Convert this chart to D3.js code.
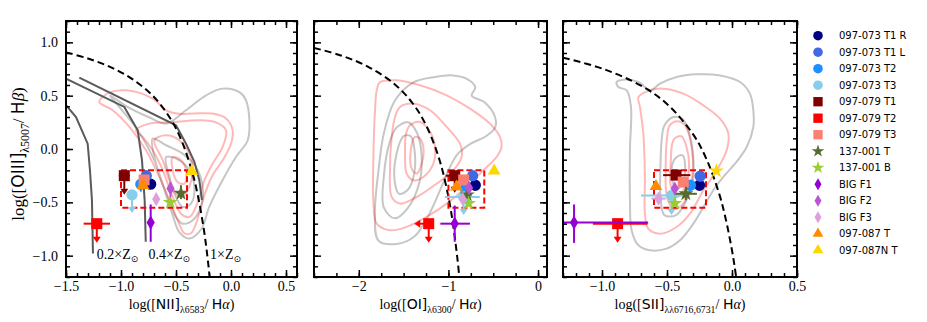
<!DOCTYPE html>
<html><head><meta charset="utf-8">
<script src="https://cdn.jsdelivr.net/npm/d3@7"></script>
<style>body{margin:0;background:#fff}svg{display:block}</style>
</head><body><svg id="c" width="927" height="322"></svg>
<script>
// ---------------- data ----------------
const seriesNames = ["097-073 T1 R","097-073 T1 L","097-073 T2","097-073 T3","097-079 T1","097-079 T2","097-079 T3","137-001 T","137-001 B","BIG F1","BIG F2","BIG F3","097-087 T","097-087N T"];
const seriesShapes = ["circle","circle","circle","circle","square","square","square","star","star","diamond","diamond","diamond","triangle","triangle"];
const seriesColors = ["#000080","#4169e1","#1e90ff","#87ceeb","#800000","#ff0000","#fa8072","#556b2f","#9acd32","#9400d3","#ba55d3","#dda0dd","#ff8c00","#ffd700"];

// BPT [NII]
const niiX = [-0.73,-0.77,-0.82,-0.90,-0.97,-1.22,-0.79,-0.455,-0.552,-0.73,-0.55,-0.68,-0.80,-0.357];
const niiY = [-0.33,-0.25,-0.33,-0.43,-0.25,-0.70,-0.29,-0.415,-0.50,-0.69,-0.37,-0.47,-0.34,-0.21];
const niiXErr = [null,null,null,[-0.95,-0.86],[-1.02,-0.92],[-1.34,-1.10],null,null,null,null,null,null,null,null];
const niiYErr = [null,null,[-0.33,-0.40],null,null,null,null,[-0.34,-0.47],null,[-0.52,-0.87],[-0.31,-0.45],null,null,null];
const niiDown = [null,null,null,-0.59,-0.42,-0.87,null,null,null,null,null,null,null,null];
const niiLeft = [null,null,null,null,null,null,null,null,null,null,null,null,null,null];

// [OI]
const oiX = [-0.70,-0.73,-0.81,-0.83,-0.93,-1.22,-0.83,-0.79,-0.775,-0.93,-0.77,-0.84,-0.91,-0.49];
const oiY = [-0.34,-0.25,-0.37,-0.45,-0.25,-0.70,-0.29,-0.43,-0.51,-0.70,-0.365,-0.47,-0.355,-0.205];
const oiXErr = [null,null,null,[-1.04,-0.65],[-1.03,-0.92],null,null,[-0.84,-0.74],null,[-1.09,-0.76],null,null,null,null];
const oiYErr = [null,null,null,null,null,null,null,[-0.39,-0.47],null,[-0.53,-0.87],null,null,null,null];
const oiDown = [null,null,null,-0.61,-0.40,-0.87,null,null,null,null,null,null,null,null];
const oiLeft = [null,null,null,null,null,-1.37,null,null,null,null,null,null,null,null];

// [SII]
const siiX = [-0.25,-0.245,-0.32,-0.465,-0.43,-0.88,-0.375,-0.355,-0.44,-1.215,-0.44,-0.565,-0.585,-0.12];
const siiY = [-0.34,-0.255,-0.34,-0.435,-0.245,-0.70,-0.31,-0.42,-0.51,-0.69,-0.37,-0.465,-0.35,-0.205];
const siiXErr = [null,null,null,[-0.70,-0.33],[-0.53,-0.32],[-1.07,-0.65],null,[-0.44,-0.27],null,[-1.35,-0.645],null,[-0.62,-0.51],null,null];
const siiYErr = [null,null,null,null,null,null,null,[-0.36,-0.48],null,[-0.52,-0.88],null,null,null,null];
const siiDown = [null,null,null,-0.61,null,-0.87,null,null,null,null,null,null,null,null];
const siiLeft = [null,null,null,null,null,null,null,null,null,null,null,null,null,null];
const siiShapes = ["circle","circle","circle","circle","square","square","square","star","star","diamond","diamond","diamond","triangle","star"];

// tick labels
const yTicks = [-1.0,-0.5,0.0,0.5,1.0];
const niiTicks = [-1.5,-1.0,-0.5,0.0,0.5];
const oiTicks = [-2,-1,0];
const siiTicks = [-1.0,-0.5,0.0,0.5];

// demarcation curves
const niiCurveX = [-1.5,-1.3,-1.1,-0.9,-0.7,-0.55,-0.45,-0.35,-0.3,-0.25,-0.22,-0.194];
const niiCurveY = [0.906,0.848,0.770,0.658,0.487,0.283,0.08,-0.225,-0.443,-0.733,-0.959,-1.2];
const oiCurveX = [-2.5,-2.2,-1.9,-1.6,-1.4,-1.25,-1.1,-1.0,-0.95,-0.9,-0.879];
const oiCurveY = [0.948,0.877,0.773,0.607,0.429,0.224,-0.101,-0.45,-0.698,-1.025,-1.196];
const siiCurveX = [-1.3,-1.0,-0.7,-0.5,-0.3,-0.2,-0.1,-0.05,0.0,0.02,0.032];
const siiCurveY = [0.856,0.755,0.594,0.422,0.139,-0.085,-0.414,-0.646,-0.95,-1.1,-1.2];

// selection boxes [x0,x1,y0,y1]
const niiBox = [-1.0,-0.4,-0.55,-0.2];
const oiBox = [-1.0,-0.6,-0.55,-0.2];
const siiBox = [-0.6,-0.2,-0.55,-0.2];

// metallicity tracks (NII panel)
const trackLabels = ["0.2×Z","0.4×Z","1×Z"];
const trackLabelPos = [[-1.22,-1.03],[-0.75,-1.03],[-0.19,-1.03]];
const track02 = [[-1.5,0.41],[-1.409,0.30],[-1.303,0.05],[-1.282,-0.20],[-1.264,-0.48],[-1.255,-0.98]];
const track04 = [[-1.5,0.66],[-0.97,0.394],[-0.848,0.175],[-0.809,-0.106],[-0.785,-0.48],[-0.775,-0.87]];
const track10 = [[-1.379,0.669],[-0.5,0.222],[-0.409,0.05],[-0.333,-0.12],[-0.288,-0.293],[-0.264,-0.48]];

// contours
const niiPink = [
 [[-1.197,0.441],[-1.106,0.528],[-0.95,0.55],[-0.712,0.472],[-0.59,0.363],[-0.47,0.33],[-0.348,0.332],[-0.167,0.332],[-0.045,0.285],[0.015,0.175],[0.0,0.05],[-0.076,-0.106],[-0.167,-0.246],[-0.227,-0.387],[-0.273,-0.543],[-0.318,-0.70],[-0.364,-0.79],[-0.424,-0.79],[-0.485,-0.668],[-0.56,-0.48],[-0.652,-0.262],[-0.773,-0.012],[-0.924,0.207],[-1.076,0.363]],
 [[-0.864,0.175],[-0.742,0.238],[-0.55,0.25],[-0.288,0.27],[-0.136,0.25],[-0.045,0.175],[-0.076,0.02],[-0.167,-0.137],[-0.242,-0.293],[-0.288,-0.45],[-0.333,-0.575],[-0.379,-0.637],[-0.455,-0.606],[-0.53,-0.45],[-0.62,-0.2],[-0.712,-0.012],[-0.803,0.113]],
 [[-0.697,0.082],[-0.59,0.128],[-0.47,0.082],[-0.379,-0.043],[-0.348,-0.2],[-0.379,-0.356],[-0.44,-0.45],[-0.5,-0.418],[-0.56,-0.293],[-0.62,-0.106]],
 [[-0.53,-0.075],[-0.455,-0.106],[-0.409,-0.2],[-0.424,-0.325],[-0.485,-0.31],[-0.53,-0.2]]
];
const niiGray = [
 [[-1.10,0.50],[-0.95,0.40],[-0.75,0.30],[-0.59,0.238],[-0.41,0.363],[-0.227,0.503],[-0.076,0.566],[0.08,0.53],[0.136,0.457],[0.167,0.27],[0.152,0.082],[0.045,-0.075],[-0.076,-0.29],[-0.197,-0.54],[-0.27,-0.75],[-0.379,-0.84],[-0.47,-0.78],[-0.53,-0.62],[-0.60,-0.40],[-0.70,-0.10],[-0.85,0.18],[-1.02,0.40]],
 [[-0.712,0.097],[-0.59,0.035],[-0.44,-0.043],[-0.318,-0.168],[-0.258,-0.356],[-0.273,-0.543],[-0.348,-0.668],[-0.44,-0.70],[-0.5,-0.637],[-0.59,-0.418],[-0.682,-0.137]],
 [[-0.59,-0.075],[-0.47,-0.106],[-0.379,-0.2],[-0.333,-0.356],[-0.364,-0.512],[-0.44,-0.543],[-0.5,-0.45],[-0.56,-0.262]]
];
const oiPink = [
 [[-1.763,0.628],[-1.577,0.644],[-1.317,0.597],[-1.02,0.503],[-0.76,0.378],[-0.537,0.238],[-0.425,0.113],[-0.407,0.02],[-0.463,-0.075],[-0.612,-0.2],[-0.798,-0.356],[-1.02,-0.512],[-1.243,-0.637],[-1.466,-0.73],[-1.652,-0.762],[-1.8,-0.7],[-1.838,-0.48],[-1.838,-0.106],[-1.819,0.363],[-1.8,0.55]],
 [[-1.54,0.394],[-1.391,0.425],[-1.205,0.363],[-1.02,0.207],[-0.871,0.05],[-0.853,-0.075],[-0.946,-0.2],[-1.131,-0.325],[-1.354,-0.45],[-1.54,-0.512],[-1.633,-0.45],[-1.652,-0.2],[-1.633,0.113],[-1.596,0.3]],
 [[-1.428,0.222],[-1.317,0.254],[-1.205,0.16],[-1.15,0.02],[-1.168,-0.137],[-1.28,-0.262],[-1.391,-0.293],[-1.466,-0.23],[-1.484,-0.043],[-1.473,0.144]],
 [[-1.373,0.113],[-1.317,0.097],[-1.28,0.02],[-1.298,-0.137],[-1.354,-0.23],[-1.41,-0.184],[-1.42,-0.012]]
];
const oiGray = [
 [[-1.15,0.675],[-0.95,0.69],[-0.80,0.66],[-0.70,0.58],[-0.74,0.50],[-0.60,0.44],[-0.48,0.30],[-0.48,0.20],[-0.58,0.12],[-0.75,0.05],[-0.90,-0.05],[-1.00,-0.20],[-1.10,-0.40],[-1.22,-0.62],[-1.38,-0.82],[-1.58,-0.89],[-1.78,-0.86],[-1.82,-0.60],[-1.78,-0.20],[-1.72,0.15],[-1.60,0.45],[-1.40,0.62]],
 [[-1.58,0.20],[-1.45,0.25],[-1.35,0.15],[-1.30,-0.05],[-1.32,-0.30],[-1.45,-0.55],[-1.60,-0.65],[-1.72,-0.55],[-1.72,-0.25],[-1.66,0.05]],
 [[-1.50,0.12],[-1.42,0.12],[-1.38,0.0],[-1.38,-0.22],[-1.45,-0.38],[-1.55,-0.42],[-1.60,-0.30],[-1.58,-0.05]]
];
const siiPink = [
 [[-0.72,0.487],[-0.631,0.55],[-0.528,0.566],[-0.374,0.519],[-0.22,0.409],[-0.092,0.284],[-0.028,0.144],[-0.041,-0.012],[-0.118,-0.2],[-0.22,-0.387],[-0.323,-0.606],[-0.426,-0.731],[-0.554,-0.794],[-0.644,-0.747],[-0.67,-0.606],[-0.67,-0.262],[-0.682,0.144],[-0.708,0.394]],
 [[-0.48,0.22],[-0.42,0.26],[-0.36,0.22],[-0.32,0.08],[-0.30,-0.12],[-0.32,-0.35],[-0.38,-0.52],[-0.45,-0.56],[-0.50,-0.45],[-0.51,-0.15],[-0.50,0.10]],
 [[-0.44,0.10],[-0.39,0.12],[-0.35,0.02],[-0.33,-0.15],[-0.36,-0.35],[-0.42,-0.45],[-0.47,-0.35],[-0.47,-0.10],[-0.46,0.05]]
];
const siiGray = [
 [[-0.887,0.628],[-0.836,0.65],[-0.72,0.628],[-0.63,0.55],[-0.554,0.612],[-0.426,0.675],[-0.272,0.70],[-0.092,0.69],[0.062,0.628],[0.138,0.519],[0.164,0.362],[0.164,0.206],[0.113,0.019],[0.023,-0.138],[-0.067,-0.262],[-0.144,-0.387],[-0.22,-0.544],[-0.297,-0.70],[-0.40,-0.856],[-0.503,-0.934],[-0.631,-0.95],[-0.72,-0.903],[-0.772,-0.763],[-0.785,-0.481],[-0.785,0.0],[-0.777,0.394],[-0.81,0.55],[-0.874,0.581]],
 [[-0.52,0.22],[-0.45,0.30],[-0.38,0.28],[-0.33,0.15],[-0.30,-0.05],[-0.30,-0.28],[-0.35,-0.48],[-0.43,-0.62],[-0.52,-0.62],[-0.55,-0.45],[-0.55,-0.15],[-0.54,0.10]],
 [[-0.43,-0.08],[-0.38,-0.06],[-0.36,-0.18],[-0.38,-0.32],[-0.43,-0.38],[-0.46,-0.28],[-0.46,-0.15]]
];

// ---------------- drawing ----------------
const svg = d3.select("#c");
const TOP = 21, BOT = 277;
const y = d3.scaleLinear().domain([-1.2,1.2]).range([BOT,TOP]);
const SERIF = "'Liberation Serif','DejaVu Serif',serif";
const SANS = "'DejaVu Sans',sans-serif";

const panels = [
 {key:"nii", x0:66, x1:297, dom:[-1.5,0.6], ticks:niiTicks, minor:0.1, fmt:d3.format(".1f"),
  X:niiX, Y:niiY, XE:niiXErr, YE:niiYErr, DN:niiDown, LF:niiLeft, shapes:seriesShapes,
  cx:niiCurveX, cy:niiCurveY, box:niiBox, pink:niiPink, gray:niiGray,
  label:[["log([",SERIF],["NII",SANS],["]",SANS],["λ6583",SERIF,1],["/ ",SERIF],["H",SANS],["α",SERIF,0,1],[")",SERIF]]},
 {key:"oi", x0:314, x1:547, dom:[-2.5,0.1], ticks:oiTicks, minor:0.25, fmt:d3.format("d"),
  X:oiX, Y:oiY, XE:oiXErr, YE:oiYErr, DN:oiDown, LF:oiLeft, shapes:seriesShapes,
  cx:oiCurveX, cy:oiCurveY, box:oiBox, pink:oiPink, gray:oiGray,
  label:[["log([",SERIF],["OI",SANS],["]",SANS],["λ6300",SERIF,1],["/ ",SERIF],["H",SANS],["α",SERIF,0,1],[")",SERIF]]},
 {key:"sii", x0:563, x1:797, dom:[-1.3,0.5], ticks:siiTicks, minor:0.1, fmt:d3.format(".1f"),
  X:siiX, Y:siiY, XE:siiXErr, YE:siiYErr, DN:siiDown, LF:siiLeft, shapes:siiShapes,
  cx:siiCurveX, cy:siiCurveY, box:siiBox, pink:siiPink, gray:siiGray,
  label:[["log([",SERIF],["SII",SANS],["]",SANS],["λλ6716,6731",SERIF,1],["/ ",SERIF],["H",SANS],["α",SERIF,0,1],[")",SERIF]]}
];

function symType(s){return {circle:d3.symbolCircle,square:d3.symbolSquare,star:d3.symbolStar,diamond:d3.symbolDiamond,triangle:d3.symbolTriangle}[s];}
function symSize(s){return {circle:100,square:121,star:70,diamond:58,triangle:70}[s];}

function writeLabel(t, parts, size){
  const sh = size*0.3;
  parts.forEach((p,i)=>{
    const ts = t.append("tspan").text(p[0]).attr("font-family",p[1]);
    const prev = parts[i-1];
    if(p[2]){ts.attr("font-size",size*0.7).attr("dy",sh);}
    else {ts.attr("font-size",size); if(prev && prev[2]) ts.attr("dy",-sh);}
    if(p[3]) ts.attr("font-style","italic");
  });
}

panels.forEach((P,pi)=>{
  const x = d3.scaleLinear().domain(P.dom).range([P.x0,P.x1]);
  const g = svg.append("g");
  const cid = "clip"+pi;
  svg.append("clipPath").attr("id",cid).append("rect").attr("x",P.x0).attr("y",TOP).attr("width",P.x1-P.x0).attr("height",BOT-TOP);
  const pg = g.append("g").attr("clip-path",`url(#${cid})`);

  const closed = d3.line().x(d=>x(d[0])).y(d=>y(d[1])).curve(d3.curveCatmullRomClosed.alpha(0.5));
  P.gray.forEach(c=>pg.append("path").attr("d",closed(c)).attr("fill","none").attr("stroke","#c6c6c6").attr("stroke-width",2));
  P.pink.forEach(c=>pg.append("path").attr("d",closed(c)).attr("fill","none").attr("stroke","#ff0000").attr("stroke-opacity",0.28).attr("stroke-width",2));

  const open = d3.line().x(d=>x(d[0])).y(d=>y(d[1]));
  if(pi===0){
    [track02,track04,track10].forEach(t=>pg.append("path").attr("d",open(t)).attr("fill","none").attr("stroke","#5a5a5a").attr("stroke-width",2));
  }
  const cpts = P.cx.map((v,i)=>[v,P.cy[i]]);
  pg.append("path").attr("d",open.curve(d3.curveCatmullRom)(cpts)).attr("fill","none").attr("stroke","#000").attr("stroke-width",2).attr("stroke-dasharray","7,4");

  const b = P.box;
  pg.append("rect").attr("x",x(b[0])).attr("y",y(b[3])).attr("width",x(b[1])-x(b[0])).attr("height",y(b[2])-y(b[3]))
    .attr("fill","none").attr("stroke","#ff0000").attr("stroke-width",2).attr("stroke-dasharray","6,3");

  seriesNames.forEach((nm,i)=>{
    const col = seriesColors[i];
    const px = x(P.X[i]), py = y(P.Y[i]);
    const sg = pg.append("g");
    if(P.XE[i]) sg.append("line").attr("x1",x(P.XE[i][0])).attr("x2",x(P.XE[i][1])).attr("y1",py).attr("y2",py).attr("stroke",col).attr("stroke-width",2);
    if(P.YE[i]) sg.append("line").attr("x1",px).attr("x2",px).attr("y1",y(P.YE[i][0])).attr("y2",y(P.YE[i][1])).attr("stroke",col).attr("stroke-width",2);
    if(P.DN[i]!=null){
      const ly = y(P.DN[i]);
      sg.append("line").attr("x1",px).attr("x2",px).attr("y1",py).attr("y2",ly-3).attr("stroke",col).attr("stroke-width",2);
      sg.append("path").attr("d",`M${px-4},${ly-5}L${px+4},${ly-5}L${px},${ly+1}Z`).attr("fill",col);
    }
    if(P.LF[i]!=null){
      const lx = x(P.LF[i]);
      sg.append("line").attr("x1",px).attr("x2",lx+3).attr("y1",py).attr("y2",py).attr("stroke",col).attr("stroke-width",2);
      sg.append("path").attr("d",`M${lx+5},${py-4}L${lx+5},${py+4}L${lx-1},${py}Z`).attr("fill",col);
    }
    const sh = P.shapes[i];
    sg.append("path").attr("d",d3.symbol().type(symType(sh)).size(symSize(sh))()).attr("transform",`translate(${px},${py})`).attr("fill",col);
  });

  const majorLen = 7, minorLen = 4;
  const minorVals = d3.range(Math.ceil(P.dom[0]/P.minor-1e-9), Math.floor(P.dom[1]/P.minor+1e-9)+1).map(k=>+(k*P.minor).toFixed(4));
  const yMinor = d3.range(-12,13).map(k=>+(k*0.1).toFixed(2));
  const ax = g.append("g");
  ax.append("g").attr("transform",`translate(0,${BOT})`).call(d3.axisBottom(x).tickValues(P.ticks).tickSize(-majorLen).tickPadding(4).tickFormat(P.fmt));
  ax.append("g").attr("transform",`translate(0,${BOT})`).call(d3.axisBottom(x).tickValues(minorVals).tickSize(-minorLen).tickFormat(""));
  ax.append("g").attr("transform",`translate(0,${TOP})`).call(d3.axisTop(x).tickValues(P.ticks).tickSize(-majorLen).tickFormat(""));
  ax.append("g").attr("transform",`translate(0,${TOP})`).call(d3.axisTop(x).tickValues(minorVals).tickSize(-minorLen).tickFormat(""));
  ax.append("g").attr("transform",`translate(${P.x0},0)`).call(d3.axisLeft(y).tickValues(yTicks).tickSize(-majorLen).tickPadding(8).tickFormat(pi===0?d3.format(".1f"):""));
  ax.append("g").attr("transform",`translate(${P.x0},0)`).call(d3.axisLeft(y).tickValues(yMinor).tickSize(-minorLen).tickFormat(""));
  ax.append("g").attr("transform",`translate(${P.x1},0)`).call(d3.axisRight(y).tickValues(yTicks).tickSize(-majorLen).tickFormat(""));
  ax.append("g").attr("transform",`translate(${P.x1},0)`).call(d3.axisRight(y).tickValues(yMinor).tickSize(-minorLen).tickFormat(""));
  ax.selectAll(".domain").remove();
  ax.selectAll(".tick line").attr("stroke","#000").attr("stroke-width",1.5);
  ax.selectAll("g").attr("font-family",SERIF).attr("font-size",14);
  ax.selectAll("text").attr("font-family",SERIF).attr("font-size",14).attr("fill","#000");
  g.append("rect").attr("x",P.x0).attr("y",TOP).attr("width",P.x1-P.x0).attr("height",BOT-TOP).attr("fill","none").attr("stroke","#000").attr("stroke-width",2);

  const t = g.append("text").attr("x",(P.x0+P.x1)/2).attr("y",309).attr("text-anchor","middle").attr("fill","#000");
  writeLabel(t,P.label,14);

  if(pi===0){
    trackLabels.forEach((s,k)=>{
      const tt = g.append("text").attr("x",x(trackLabelPos[k][0])).attr("y",y(trackLabelPos[k][1])).attr("font-family",SERIF).attr("font-size",14).attr("fill","#000");
      tt.append("tspan").text(s);
      tt.append("tspan").text("⊙").attr("font-size",9).attr("dy",3).attr("font-family",SANS);
    });
  }
});

const yl = svg.append("text").attr("transform","translate(24,154) rotate(-90)").attr("text-anchor","middle").attr("fill","#000");
writeLabel(yl,[["log([",SERIF],["OIII",SANS],["]",SANS],["λ5007",SERIF,1],["/ ",SERIF],["H",SANS],["β",SERIF,0,1],[")",SERIF]],17);

const lg = svg.append("g");
seriesNames.forEach((nm,i)=>{
  const ly = 35.7 + i*16.5;
  const sh = seriesShapes[i];
  lg.append("path").attr("d",d3.symbol().type(symType(sh)).size(symSize(sh)*0.72)()).attr("transform",`translate(818,${ly})`).attr("fill",seriesColors[i]);
  lg.append("text").attr("x",839).attr("y",ly+3.6).text(nm).attr("font-family",SANS).attr("font-size",10).attr("fill","#000");
});
</script></body></html>
